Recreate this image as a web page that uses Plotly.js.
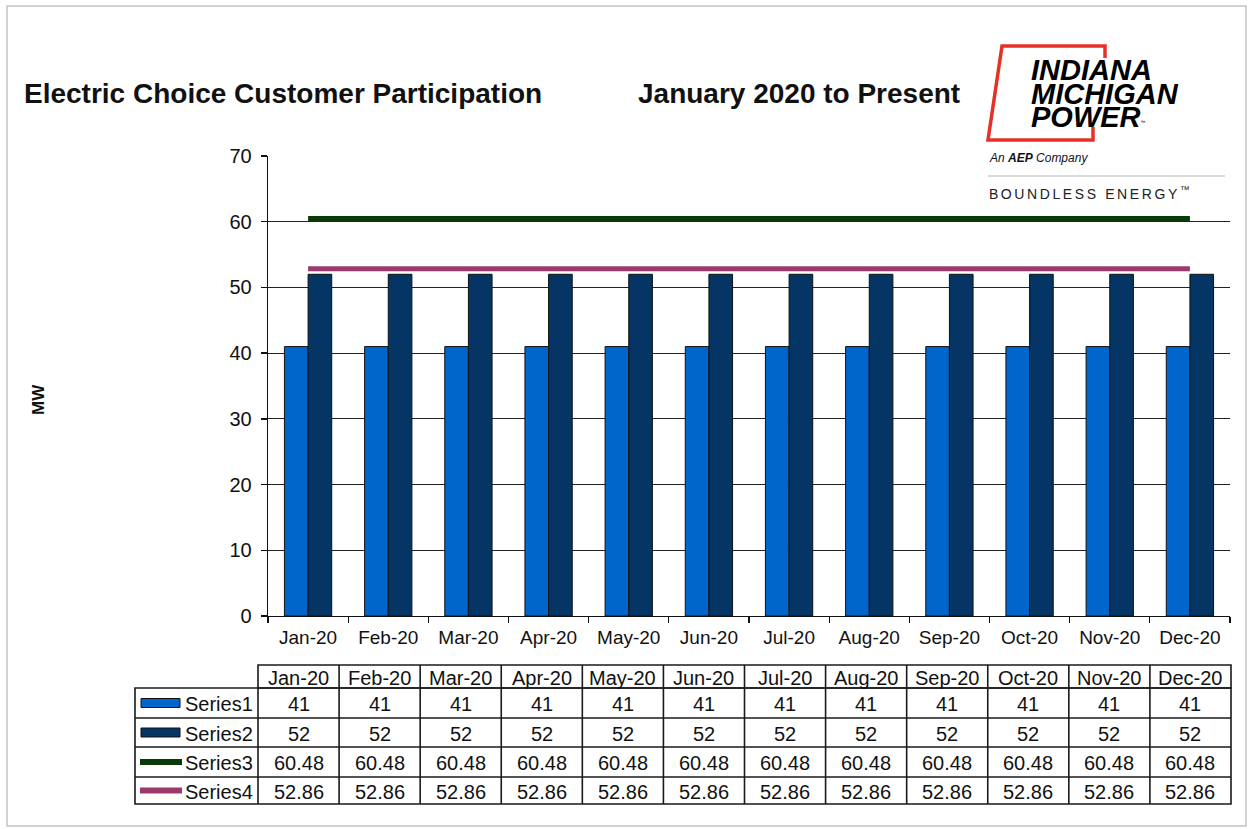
<!DOCTYPE html>
<html>
<head>
<meta charset="utf-8">
<script src="https://cdn.plot.ly/plotly-3.0.1.min.js"></script>
<style>
  html, body { margin: 0; padding: 0; background: #fff; }
  #chart { width: 1252px; height: 829px; }
</style>
</head>
<body>
<div id="chart"></div>
<script>
// ---- data ----
const months = ['Jan-20','Feb-20','Mar-20','Apr-20','May-20','Jun-20','Jul-20','Aug-20','Sep-20','Oct-20','Nov-20','Dec-20'];
const seriesNames = ['Series1','Series2','Series3','Series4'];
const series1 = [41,41,41,41,41,41,41,41,41,41,41,41];
const series2 = [52,52,52,52,52,52,52,52,52,52,52,52];
const series3 = [60.48,60.48,60.48,60.48,60.48,60.48,60.48,60.48,60.48,60.48,60.48,60.48];
const series4 = [52.86,52.86,52.86,52.86,52.86,52.86,52.86,52.86,52.86,52.86,52.86,52.86];
const yTicks = [0,10,20,30,40,50,60,70];
const gridTicks = [10,20,30,40,50,60];

const colors = ['#0066cc', '#053565', '#0a3a0a', '#9c3a6c'];
const FONT = 'Liberation Sans, Arial, sans-serif';
const TXT = '#111';

// ---- geometry helpers (pixel -> paper) ----
const L = 268, R = 1230, T = 156, B = 616;
const px = p => (p - L) / (R - L);
const py = p => (B - p) / (B - T);

const shapes = [];
const annotations = [];

function line(x0, y0, x1, y1, color, width) {
  shapes.push({type: 'line', xref: 'paper', yref: 'paper', x0: px(x0), y0: py(y0), x1: px(x1), y1: py(y1),
    line: {color: color, width: width}});
}
function rect(x0, y0, x1, y1, fill, lcolor, lwidth) {
  shapes.push({type: 'rect', xref: 'paper', yref: 'paper', x0: px(x0), y0: py(y0), x1: px(x1), y1: py(y1),
    fillcolor: fill, line: {color: lcolor, width: lwidth}});
}
function text(t, x, y, size, opts) {
  opts = opts || {};
  annotations.push(Object.assign({
    text: t, xref: 'paper', yref: 'paper', x: px(x), y: py(y), showarrow: false,
    xanchor: 'center', yanchor: 'middle',
    font: {family: FONT, size: size, color: TXT}
  }, opts));
}

// ---- outer frame ----
rect(7, 6, 1246, 826, 'rgba(0,0,0,0)', '#c4c4c4', 1.5);

// ---- titles ----
text('<b>Electric Choice Customer Participation</b>', 22, 94, 28, {xanchor: 'left'});
text('<b>January 2020 to Present</b>', 636, 94, 28, {xanchor: 'left'});
text('<b>MW</b>', 38, 400, 17, {textangle: -90});

// ---- logo ----
shapes.push({type: 'path', xref: 'paper', yref: 'paper',
  path: 'M ' + px(1105) + ' ' + py(58) + ' L ' + px(1105) + ' ' + py(46) + ' L ' + px(1002) + ' ' + py(46) +
        ' L ' + px(988) + ' ' + py(140) + ' L ' + px(1093) + ' ' + py(140) + ' L ' + px(1093) + ' ' + py(127),
  line: {color: '#e63226', width: 3.5}});
text('<b><i>INDIANA</i></b>', 1029, 70, 29, {xanchor: 'left', font: {family: FONT, size: 29, color: '#000'}});
text('<b><i>MICHIGAN</i></b>', 1029, 94, 29, {xanchor: 'left', font: {family: FONT, size: 29, color: '#000'}});
text('<b><i>POWER</i></b><span style="font-size:7px"><sup>™</sup></span>', 1029, 117, 29,
     {xanchor: 'left', font: {family: FONT, size: 29, color: '#000'}});
text('<i>An <b>AEP</b> Company</i>', 987, 158, 12, {xanchor: 'left', font: {family: FONT, size: 12, color: '#111'}});
line(988, 176, 1225, 176, '#cfcfcf', 1.5);
text('BOUNDLESS ENERGY<sup>™</sup>', 1009, 193, 14, {xanchor: 'left', font: {family: FONT, size: 14, color: '#222'}});

// ---- data table ----
const tLeft = 135, tLab = 258, tRight = 1231;
const colW = (tRight - tLab) / months.length;
const rowY = [665, 688, 718, 747, 777, 804];
const TL = '#1a1a1a', TW = 1.6;
rect(tLab, rowY[0], tRight, rowY[1], 'rgba(0,0,0,0)', TL, TW);
rect(tLeft, rowY[1], tRight, rowY[5], 'rgba(0,0,0,0)', TL, TW);
for (let i = 1; i < months.length; i++) {
  const x = tLab + i * colW;
  line(x, rowY[0], x, rowY[5], TL, TW);
}
line(tLab, rowY[1], tLab, rowY[5], TL, TW);
for (let r = 2; r < 5; r++) line(tLeft, rowY[r], tRight, rowY[r], TL, TW);

months.forEach((m, i) => text(m, tLab + (i + 0.5) * colW, (rowY[0] + rowY[1]) / 2 + 1, 20));
const tableData = [series1, series2, series3, series4];
tableData.forEach((vals, r) => {
  const yc = (rowY[r + 1] + rowY[r + 2]) / 2 + 1;
  vals.forEach((v, i) => text(String(v), tLab + (i + 0.5) * colW, yc, 20));
  text(seriesNames[r], 183, yc, 20, {xanchor: 'left'});
  const ky = (rowY[r + 1] + rowY[r + 2]) / 2;
  if (r < 2) {
    rect(141, ky - 4.5, 180, ky + 4.5, colors[r], '#111', 1);
  } else {
    line(140, ky, 182, ky, colors[r], 6);
  }
});

// ---- traces ----
const traces = [
  {type: 'bar', name: seriesNames[0], x: months, y: series1,
   marker: {color: colors[0], line: {color: '#111', width: 1}}},
  {type: 'bar', name: seriesNames[1], x: months, y: series2,
   marker: {color: colors[1], line: {color: '#111', width: 1}}},
  {type: 'scatter', mode: 'lines', name: seriesNames[2], x: months, y: series3, yaxis: 'y2',
   line: {color: colors[2], width: 5}},
  {type: 'scatter', mode: 'lines', name: seriesNames[3], x: months, y: series4, yaxis: 'y2',
   line: {color: colors[3], width: 5}}
];

const layout = {
  width: 1252, height: 829,
  margin: {l: L, r: 1252 - R, t: T, b: 829 - B},
  paper_bgcolor: '#fff', plot_bgcolor: '#fff',
  showlegend: false,
  barmode: 'group', bargap: 0.41, bargroupgap: 0,
  font: {family: FONT, color: TXT},
  xaxis: {
    type: 'category', showline: true, linecolor: '#111', linewidth: 1.3,
    ticks: 'outside', tickson: 'boundaries', ticklen: 6, tickcolor: '#111', tickwidth: 1.3,
    tickfont: {family: FONT, size: 19, color: TXT}, showgrid: false, zeroline: false,
    ticklabelstandoff: 4
  },
  yaxis: {
    range: [0, 70], tickmode: 'array', tickvals: yTicks, ticktext: yTicks.map(String),
    showline: true, linecolor: '#111', linewidth: 1.3,
    ticks: 'outside', ticklen: 6, tickcolor: '#111', tickwidth: 1.3,
    tickfont: {family: FONT, size: 20, color: TXT}, showgrid: false, zeroline: false,
    ticklabelstandoff: 5
  },
  yaxis2: {
    overlaying: 'y', side: 'left', range: [0, 70], tickmode: 'array', tickvals: gridTicks,
    showticklabels: false, ticks: '', showline: false, zeroline: false,
    showgrid: true, gridcolor: '#222', gridwidth: 1.2
  },
  shapes: shapes,
  annotations: annotations
};

Plotly.newPlot('chart', traces, layout, {displayModeBar: false, staticPlot: true}).then(() => {
  document.querySelectorAll('.annotation-text').forEach(el => {
    if (el.textContent.indexOf('BOUNDLESS') === 0) el.style.letterSpacing = '2.6px';
  });
});
</script>
</body>
</html>
